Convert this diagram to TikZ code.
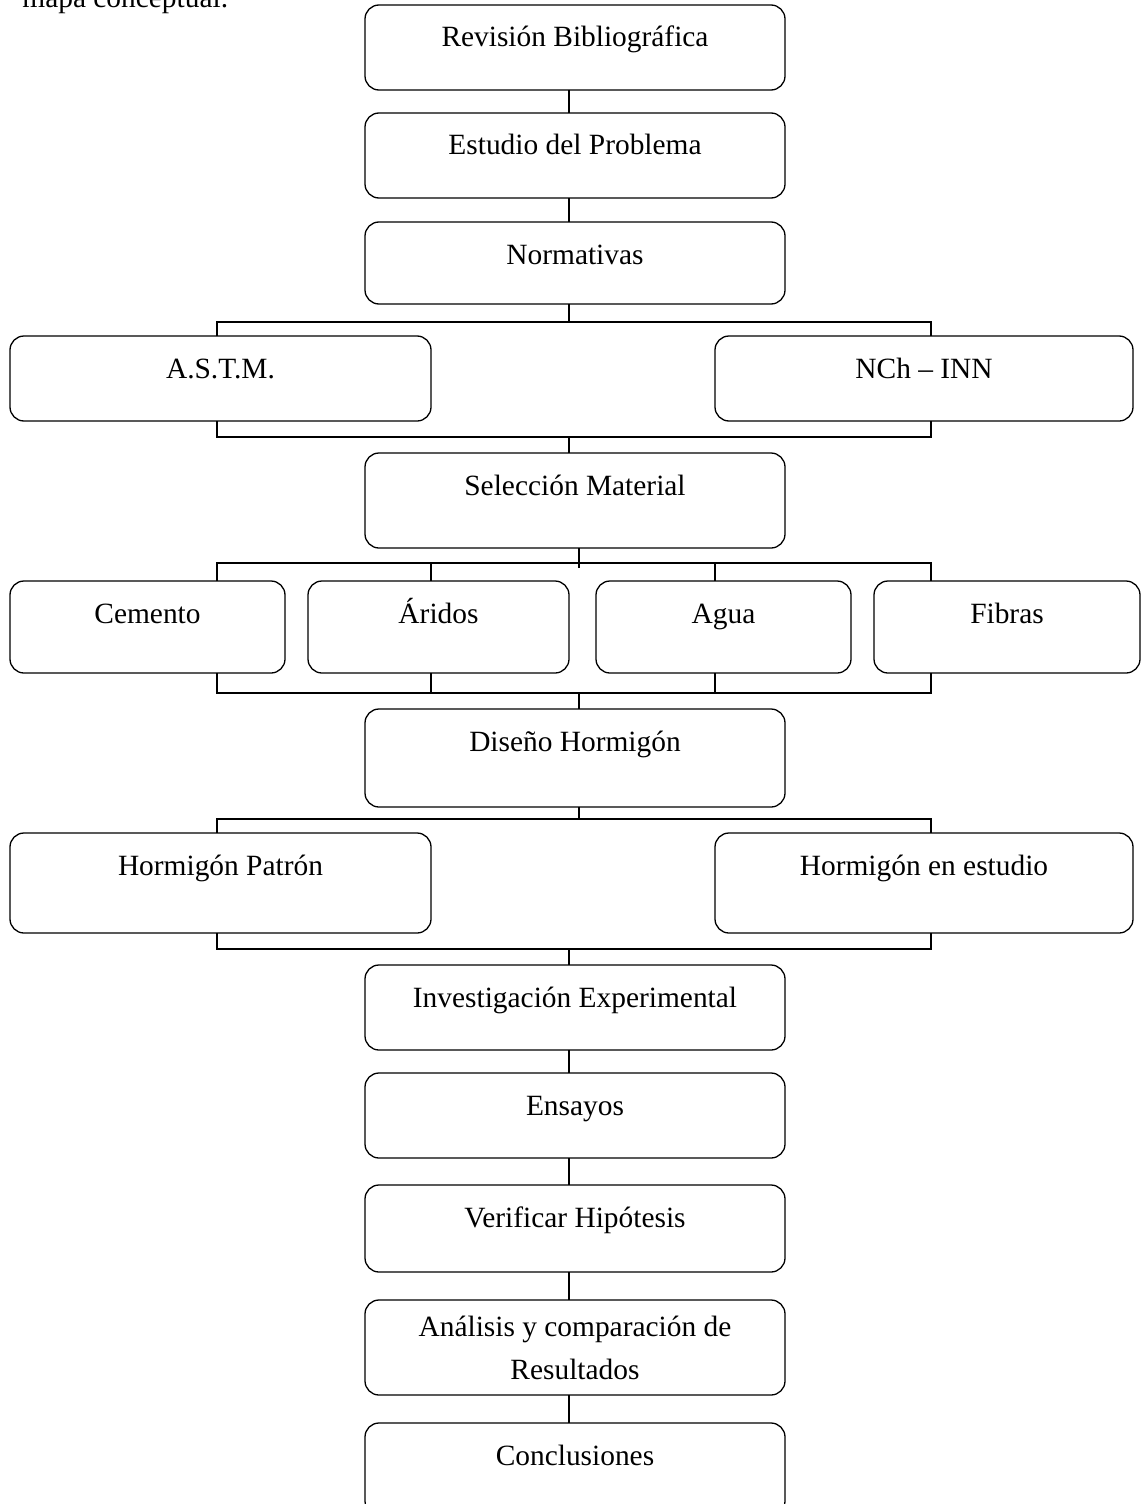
\documentclass[tikz,border=0pt]{standalone}
\usepackage{fontspec}
\setmainfont{Liberation Serif}
\begin{document}
\fontsize{14.7pt}{21.5pt}\selectfont
\begin{tikzpicture}[x=0.5pt,y=-0.5pt,
  box/.style={draw, line width=0.65pt, rounded corners=7pt, inner sep=0pt, outer sep=0pt, anchor=north west, align=center},
  ln/.style={line width=0.65pt}]
\useasboundingbox (0,0) rectangle (1141,1504);
\newcommand\mkbox[7]{%
  \pgfmathsetmacro\bxw{(#4-#2)*0.5}%
  \pgfmathsetmacro\bxth{#6*0.5}%
  \pgfmathsetmacro\bxtd{(#5-#3-#6)*0.5}%
  \node[box, minimum width=\bxw pt, text height=\bxth pt, text depth=\bxtd pt] (#1) at (#2,#3) {#7};}
\node[anchor=base west, inner sep=0pt] (title) at (22,8) {mapa conceptual.};
\mkbox{b1}{365}{5}{785}{90}{42}{Revisión Bibliográfica}
\mkbox{b2}{365}{113}{785}{198}{42}{Estudio del Problema}
\mkbox{b3}{365}{222}{785}{304}{42}{Normativas}
\mkbox{astm}{10}{336}{431}{421}{42}{A.S.T.M.}
\mkbox{nch}{715}{336}{1133}{421}{42}{NCh – INN}
\mkbox{sel}{365}{453}{785}{548}{42}{Selección Material}
\mkbox{cem}{10}{581}{285}{673}{42}{Cemento}
\mkbox{ari}{308}{581}{569}{673}{42}{Áridos}
\mkbox{agu}{596}{581}{851}{673}{42}{Agua}
\mkbox{fib}{874}{581}{1140}{673}{42}{Fibras}
\mkbox{dis}{365}{709}{785}{807}{42}{Diseño Hormigón}
\mkbox{pat}{10}{833}{431}{933}{42}{Hormigón Patrón}
\mkbox{est}{715}{833}{1133}{933}{42}{Hormigón en estudio}
\mkbox{inv}{365}{965}{785}{1050}{42}{Investigación Experimental}
\mkbox{ens}{365}{1073}{785}{1158}{42}{Ensayos}
\mkbox{ver}{365}{1185}{785}{1272}{42}{Verificar Hipótesis}
\mkbox{ana}{365}{1300}{785}{1395}{36}{\parbox[t]{200pt}{\centering Análisis y comparación de\\Resultados}}
\mkbox{con}{365}{1423}{785}{1515}{42}{Conclusiones}
% column positions
\coordinate (xL) at (217,0);
\coordinate (xA) at (431,0);
\coordinate (xG) at (715,0);
\coordinate (xR) at (931,0);
\coordinate (xC) at (569,0);
\coordinate (xD) at (579,0);
% row levels
\coordinate (h1) at (0,322);
\coordinate (h2) at (0,437);
\coordinate (h3) at (0,563);
\coordinate (h4) at (0,693);
\coordinate (h5) at (0,819);
\coordinate (h6) at (0,949);
% straight links
\draw[ln] (b1.south -| xC) -- (b2.north -| xC);
\draw[ln] (b2.south -| xC) -- (b3.north -| xC);
\draw[ln] (inv.south -| xC) -- (ens.north -| xC);
\draw[ln] (ens.south -| xC) -- (ver.north -| xC);
\draw[ln] (ver.south -| xC) -- (ana.north -| xC);
\draw[ln] (ana.south -| xC) -- (con.north -| xC);
% Normativas split
\draw[ln] (b3.south -| xC) -- (h1 -| xC);
\draw[ln] (astm.north -| xL) -- (h1 -| xL) -- (h1 -| xR) -- (nch.north -| xR);
% merge to Seleccion
\draw[ln] (astm.south -| xL) -- (h2 -| xL) -- (h2 -| xR) -- (nch.south -| xR);
\draw[ln] (h2 -| xC) -- (sel.north -| xC);
% Seleccion split
\draw[ln] (sel.south -| xD) -- ([yshift=-2.5pt]h3 -| xD);
\draw[ln] (cem.north -| xL) -- (h3 -| xL) -- (h3 -| xR) -- (fib.north -| xR);
\draw[ln] (h3 -| xA) -- (ari.north -| xA);
\draw[ln] (h3 -| xG) -- (agu.north -| xG);
% merge to Diseno
\draw[ln] (cem.south -| xL) -- (h4 -| xL) -- (h4 -| xR) -- (fib.south -| xR);
\draw[ln] (ari.south -| xA) -- (h4 -| xA);
\draw[ln] (agu.south -| xG) -- (h4 -| xG);
\draw[ln] (h4 -| xD) -- (dis.north -| xD);
% Diseno split
\draw[ln] (dis.south -| xD) -- (h5 -| xD);
\draw[ln] (pat.north -| xL) -- (h5 -| xL) -- (h5 -| xR) -- (est.north -| xR);
% merge to Investigacion
\draw[ln] (pat.south -| xL) -- (h6 -| xL) -- (h6 -| xR) -- (est.south -| xR);
\draw[ln] (h6 -| xC) -- (inv.north -| xC);
\end{tikzpicture}
\end{document}
